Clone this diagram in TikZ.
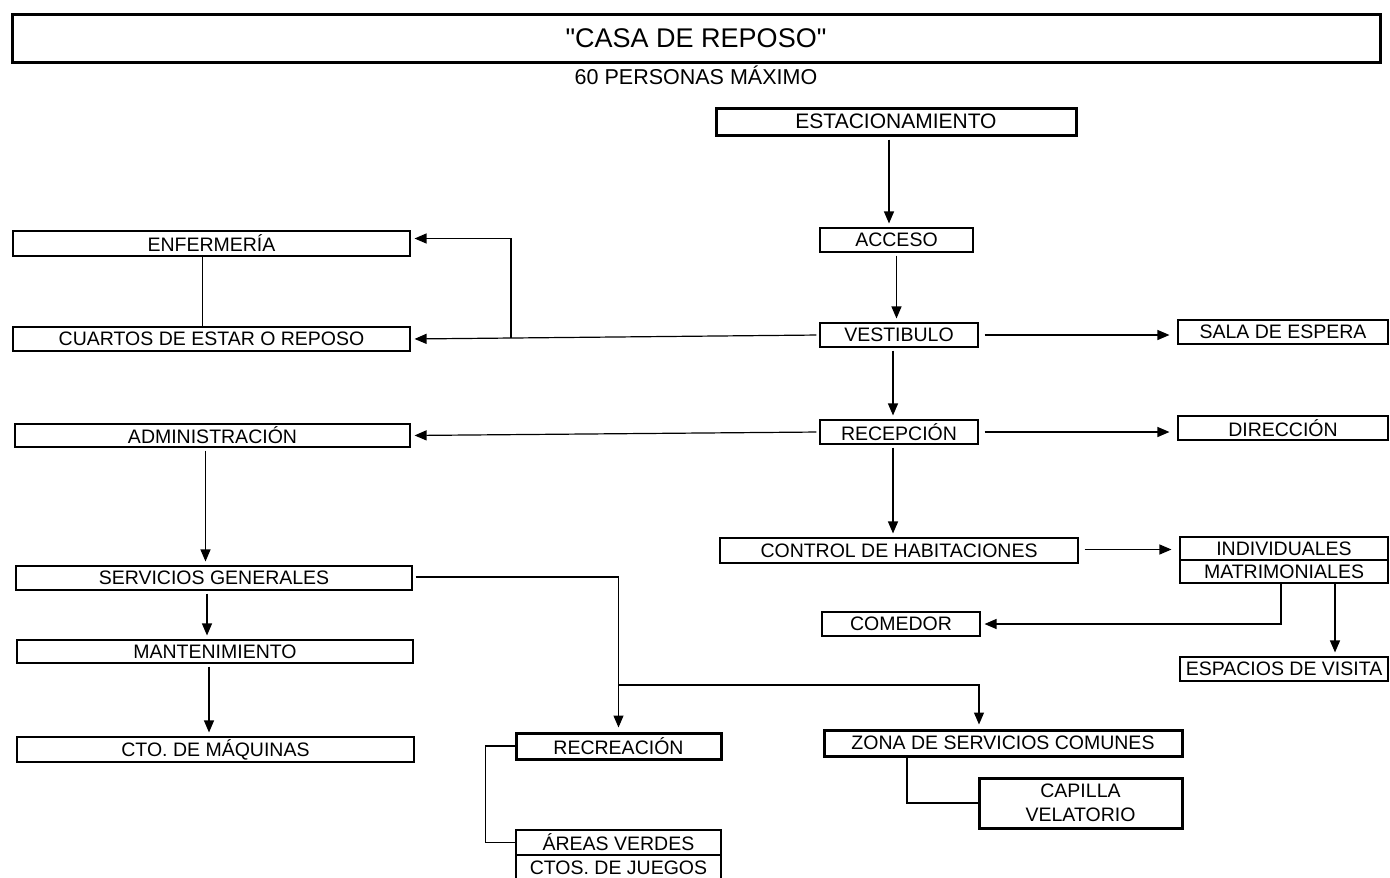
\documentclass[tikz,border=0pt]{standalone}
\usepackage{fontspec}
\setmainfont{Liberation Sans}
\newfontfamily\titlefont{Liberation Sans}
\usetikzlibrary{arrows.meta}
\tikzset{
  area/.style={draw=black, line width=1.1pt, fill=white, inner sep=0pt, align=center, font=\fontsize{19.5}{23}\selectfont},
  mainarea/.style={area, line width=3pt},
  flow/.style={draw=black, line width=1.2pt, -{Triangle[length=12pt, width=10pt]}, shorten >=4pt, shorten <=3pt},
  link/.style={draw=black, line width=1.2pt}
}

\begin{document}
\begin{tikzpicture}[x=1pt, y=-1pt]
  \useasboundingbox (0,0) rectangle (1390,878);
  \node[mainarea, minimum width=1368pt, minimum height=48pt, font=\titlefont\fontsize{27}{30}\selectfont] (titulo) at (696,38) {"CASA DE REPOSO"};
  \node[font=\fontsize{21.5}{24}\selectfont, inner sep=0pt] (cupo) at (696,75) {60 PERSONAS MÁXIMO};

  \node[mainarea, minimum width=360pt, minimum height=27pt, font=\fontsize{21}{24}\selectfont] (estac) at (896,121.5) {ESTACIONAMIENTO};
  \node[area, minimum width=153pt, minimum height=24pt] (acceso) at (896.5,240) {ACCESO};
  \node[area, minimum width=158pt, minimum height=24pt] (vestibulo) at (899,335) {VESTIBULO};
  \node[area, minimum width=210pt, minimum height=24pt] (espera) at (1283,332) {SALA DE ESPERA};
  \node[area, minimum width=158pt, minimum height=24pt] (recepcion) at (899,432) {RECEPCIÓN};
  \node[area, minimum width=210pt, minimum height=24pt] (direccion) at (1283,428) {DIRECCIÓN};
  \node[area, minimum width=358pt, minimum height=25pt] (control) at (899,550.5) {CONTROL DE HABITACIONES};
  \node[area, minimum width=208pt, minimum height=23pt] (individuales) at (1284,548.5) {INDIVIDUALES};
  \node[area, minimum width=208pt, minimum height=23pt] (matrimoniales) at (1284,571.5) {MATRIMONIALES};
  \node[area, minimum width=158pt, minimum height=24pt] (comedor) at (901,624) {COMEDOR};
  \node[area, minimum width=208pt, minimum height=24pt] (visita) at (1284,669) {ESPACIOS DE VISITA};

  \node[area, minimum width=397pt, minimum height=25pt] (enfermeria) at (211.5,243.5) {ENFERMERÍA};
  \node[area, minimum width=397pt, minimum height=24pt] (cuartos) at (211.5,339) {CUARTOS DE ESTAR O REPOSO};
  \node[area, minimum width=395pt, minimum height=23pt] (admin) at (212.5,435.5) {ADMINISTRACIÓN};
  \node[area, minimum width=396pt, minimum height=24pt] (servicios) at (214,578) {SERVICIOS GENERALES};
  \node[area, minimum width=396pt, minimum height=23pt] (mantenim) at (215,651.5) {MANTENIMIENTO};
  \node[area, minimum width=397pt, minimum height=25pt] (maquinas) at (215.5,749.5) {CTO. DE MÁQUINAS};

  \node[mainarea, minimum width=205pt, minimum height=26pt] (recreacion) at (618.5,746) {RECREACIÓN};
  \node[area, minimum width=205pt, minimum height=25pt] (verdes) at (618.5,842.5) {ÁREAS VERDES};
  \node[area, minimum width=205pt, minimum height=25pt] (juegos) at (618.5,867.5) {CTOS. DE JUEGOS};
  \node[mainarea, minimum width=358pt, minimum height=26pt] (comunes) at (1003,743) {ZONA DE SERVICIOS COMUNES};
  \node[mainarea, minimum width=203pt, minimum height=50pt, font=\fontsize{19.5}{24}\selectfont] (capilla) at (1080.5,803) {CAPILLA\\VELATORIO};

  \coordinate (enfjunc) at (511,338);
  \coordinate (recjunc) at (618.5,685);

  \draw[flow] ([xshift=-7pt]estac.south) -- ([xshift=-7pt]estac.south |- acceso.north);
  \draw[flow] (acceso.south) -- (acceso.south |- vestibulo.north);
  \draw[flow] ([xshift=-6pt]vestibulo.south) -- ([xshift=-6pt]vestibulo.south |- recepcion.north);
  \draw[flow] ([xshift=-6pt]recepcion.south) -- ([xshift=-6pt]recepcion.south |- control.north);
  \draw[flow] (vestibulo.west) -- (cuartos.east);
  \draw[flow, shorten <=0pt] (enfjunc) |- ([yshift=5pt]enfermeria.east);
  \draw[flow, shorten <=6pt, shorten >=8pt] (vestibulo.east) -- (vestibulo.east -| espera.west);
  \draw[flow] (recepcion.west) -- (admin.east);
  \draw[flow, shorten <=6pt, shorten >=8pt] (recepcion.east) -- (recepcion.east -| direccion.west);
  \draw[flow, shorten <=6pt, shorten >=8pt] ([yshift=1pt]control.east) -- ([yshift=1pt]control.east -| individuales.west);
  \draw[flow, shorten <=0pt] ([xshift=-3pt]matrimoniales.south) |- (comedor.east);
  \draw[flow, shorten <=0pt] ([xshift=51pt]matrimoniales.south) -- ([xshift=51pt]matrimoniales.south |- visita.north);

  \draw[link] ([xshift=-9pt]enfermeria.south) -- ([xshift=-9pt]enfermeria.south |- cuartos.north);
  \draw[flow] ([xshift=-7pt]admin.south) -- ([xshift=-7pt]admin.south |- servicios.north);
  \draw[flow] ([xshift=-7pt]servicios.south) -- ([xshift=-7pt]servicios.south |- mantenim.north);
  \draw[flow] ([xshift=-6pt]mantenim.south) -- ([xshift=-6pt]mantenim.south |- maquinas.north);
  \draw[flow] ([yshift=1pt]servicios.east) -| (recreacion.north);
  \draw[flow, shorten <=0pt] (recjunc) -| ([xshift=-24pt]comunes.north);
  \draw[link] (recreacion.west) -- ++(-29,0) |- (verdes.west);
  \draw[link] ([xshift=-96pt]comunes.south) |- (capilla.west);
\end{tikzpicture}
\end{document}
